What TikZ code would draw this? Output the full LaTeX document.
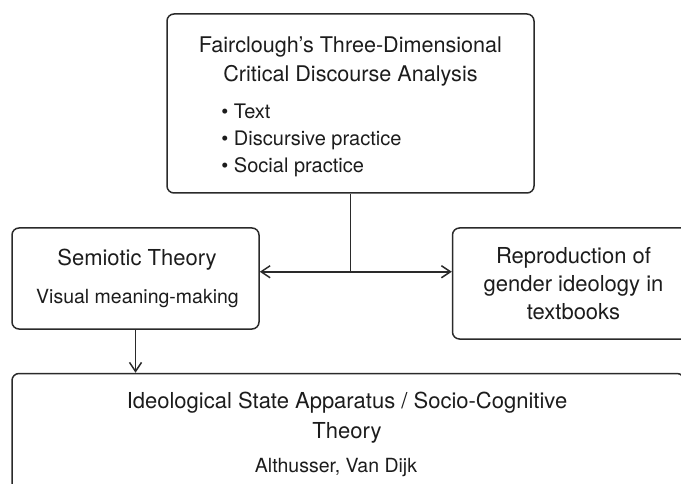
\documentclass[tikz,border=0pt]{standalone}
\usepackage{fontspec}
\setmainfont{TeX Gyre Heros}
\usetikzlibrary{positioning,arrows.meta}
\definecolor{ink}{HTML}{1C1C1C}
\definecolor{rule}{HTML}{2A2A2A}

\begin{document}
\begin{tikzpicture}[x=1pt,y=1pt,
>={Straight Barb[length=9pt,width=12pt]},
box/.style={rectangle, draw=rule, line width=1.5pt, rounded corners=7pt, inner sep=0pt},
head/.style={text=ink, inner sep=0pt, align=center, font=\fontsize{22}{30}\selectfont},
sub/.style={text=ink, inner sep=0pt, font=\fontsize{19.5}{24}\selectfont},
link/.style={draw=rule, line width=1.5pt}
]
\useasboundingbox (0,0) rectangle (681,483);
\clip (0,0) rectangle (681,483);

% boxes
\node[box, minimum width=367pt, minimum height=179pt] (frame) at (350.5,379.5) {};
\node[box, minimum width=247pt, minimum height=101pt] (semiotic) at (135.5,204.5) {};
\node[box, minimum width=242pt, minimum height=111pt, right=192pt of semiotic.north east, anchor=north west,
  text=ink, align=center, font=\fontsize{22}{28}\selectfont] (repro)
  {Reproduction of\\gender ideology in\\textbooks};
\node[box, minimum width=672pt, minimum height=128pt, below=43pt of semiotic.south west, anchor=north west] (ideology) {};

% texts
\node[head, font=\fontsize{21.6}{29}\selectfont, below=23.5pt of frame.north] (framehead)
  {Fairclough's Three-Dimensional\\Critical Discourse Analysis};
\node[text=ink, inner sep=0pt, align=left, font=\fontsize{20}{27}\selectfont,
  below right=90.6pt and 55pt of frame.north west] (framelist)
  {\textbullet\ Text\\\textbullet\ Discursive practice\\\textbullet\ Social practice};
\node[head, anchor=base] (semhead) at (137,218) {Semiotic Theory};
\node[sub, anchor=base] (semsub) at (137.5,180) {Visual meaning-making};
\node[head, anchor=north] (ideohead) at (347,90.8) {Ideological State Apparatus / Socio-Cognitive\\Theory};
\node[sub, anchor=base] (ideosub) at (336,11) {Althusser, Van Dijk};

% connectors
\coordinate[below=78pt of frame.south] (j);
\draw[link] (frame.south) -- (j);
\draw[link, <->] (semiotic.east |- j) -- (repro.west |- j);
\draw[link, ->] (semiotic.south) -- (semiotic.south |- ideology.north);
\end{tikzpicture}
\end{document}
